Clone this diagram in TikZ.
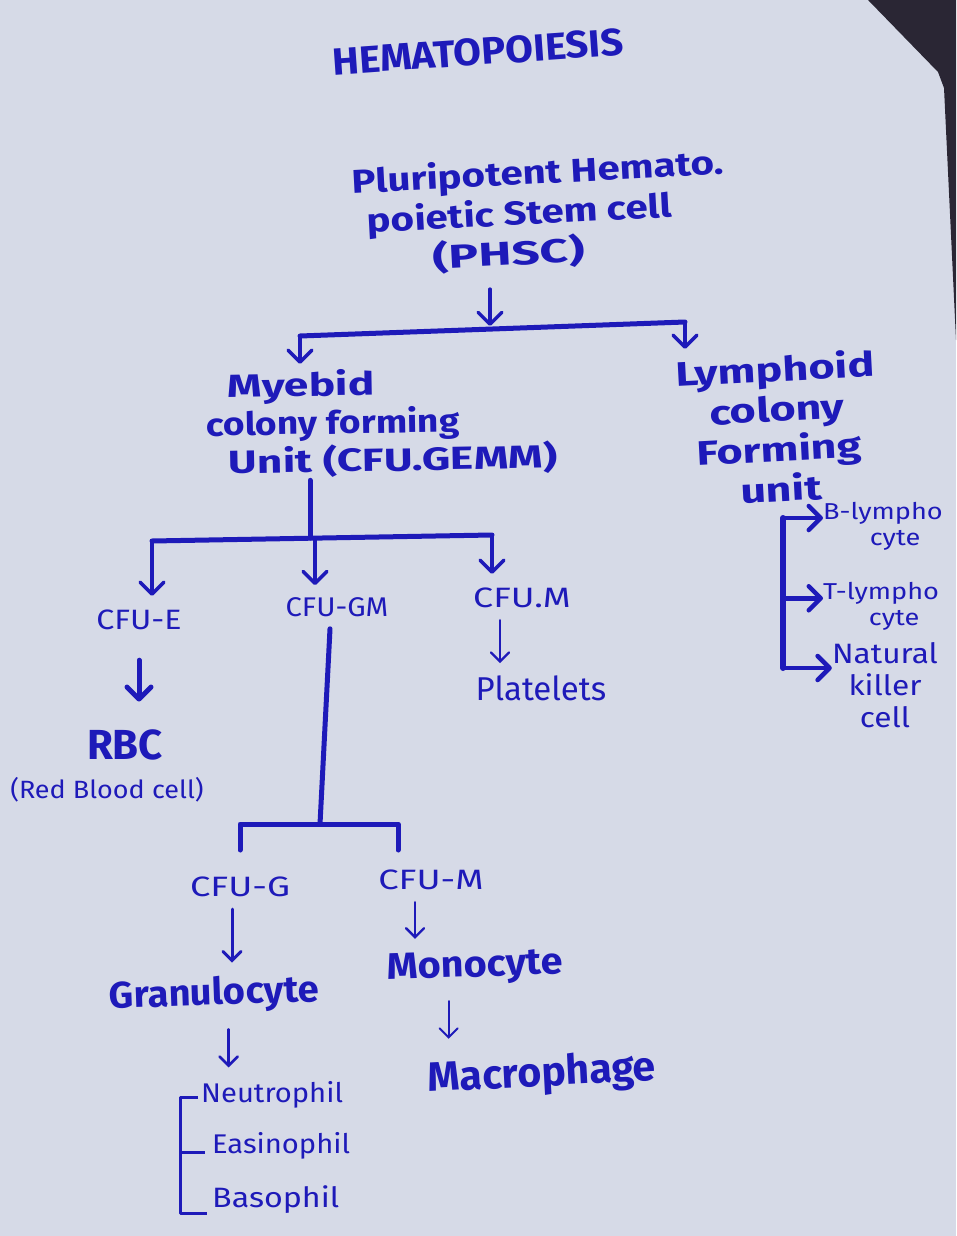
\documentclass[tikz,border=0pt]{standalone}
\usepackage{fontspec}
\setmainfont{Fira Sans}
\usetikzlibrary{arrows.meta}
\definecolor{paper}{RGB}{214,218,231}
\definecolor{ink}{RGB}{30,26,185}
\definecolor{darkedge}{RGB}{42,38,52}
\newcommand{\strx}[1]{\addfontfeature{FakeStretch=#1}}
\tikzset{
  txt/.style={text=ink, inner sep=0pt, align=center},
  link/.style={draw=ink, line width=5pt, line cap=round, line join=round},
  arr/.style={draw=ink, line width=3.5pt, line cap=round,
    -{Straight Barb[length=12pt,width=24pt,line cap=round,line join=round]}},
  thinarr/.style={draw=ink, line width=2.4pt, line cap=round,
    -{Straight Barb[length=9pt,width=18pt,line cap=round]}},
  fsx/.style 2 args={font=\fontsize{#1}{\fpeval{round(1.15*#1)}}\selectfont\strx{#2}},
  bfx/.style 2 args={font=\fontsize{#1}{\fpeval{round(1.15*#1)}}\selectfont\bfseries\strx{#2}},
}
\begin{document}
\begin{tikzpicture}[x=1pt,y=-1pt]
\fill[paper] (0,0) rectangle (956,1236);
\useasboundingbox (0,0) rectangle (956,1236);
\fill[darkedge] (868,0) -- (956,0) -- (956,340) -- (944,88) -- (938,72) -- cycle;

% title
\node[txt, bfx={38}{1.06}, rotate=4] (title) at (478,52) {HEMATOPOIESIS};

% stem cell
\node[txt, align=left, font=\fontsize{33}{40}\selectfont\bfseries\strx{1.22}, rotate=3] (phsc) at (540,213)
  {Pluripotent Hemato.\\\hspace*{13pt}poietic Stem cell\\\hspace*{77pt}{\strx{1.5}(PHSC)}};

\coordinate (bl) at (300,336);
\coordinate (br) at (685,322);
\coordinate (bm) at (490,329);
\draw[link] (bl) -- (br);
\draw[arr, shorten >=3pt] (bm |- phsc.south) ++(0,20) -- (bm);

% myeloid
\node[txt, align=left, anchor=north west, font=\fontsize{32}{38}\selectfont\bfseries, rotate=1] (myelo) at (205,372)
  {\hspace*{22pt}{\strx{1.38}Myebid}\\{\strx{1.16}colony forming}\\\hspace*{22pt}{\strx{1.38}Unit (CFU.GEMM)}};
\draw[arr, shorten >=5pt] (bl) -- (bl |- myelo.north);

% lymphoid
\node[txt, font=\fontsize{34}{40}\selectfont\bfseries\strx{1.32}, rotate=3] (lymph) at (778,428)
  {Lymphoid\\colony\\Forming\\unit};
\draw[arr, shorten >=5pt] (br) -- (br |- lymph.north);

% lymphoid branches
\node[txt, fsx={23}{1.18}, anchor=north west] (blym) at (823,502) {B-lympho\\\hspace*{24pt}cyte};
\node[txt, fsx={23}{1.18}, anchor=north west] (tlym) at (823,582) {T-lympho\\\hspace*{26pt}cyte};
\node[txt, fsx={28}{1.13}, anchor=north] (nk) at (885,642) {Natural\\killer\\cell};
\coordinate (lt) at (783,518);
\coordinate (lb) at (783,668);
\draw[link, line width=6pt] (lt) -- (lb);
\draw[arr, line width=4.5pt] (lt) -- (lt -| blym.west);
\draw[arr, line width=4.5pt] (lt |- tlym.west) ++(0,-8) -- ([yshift=8pt]tlym.west);
\draw[arr, line width=4.5pt] (lb) -- (lb -| nk.west);

% myeloid branches
\coordinate (m1) at (152,541);
\coordinate (m2) at (315,538);
\coordinate (m3) at (492,535);
\draw[link] (m1) -- (m3);
\draw[link] (m2 |- myelo.south) ++(-5,4) -- ([xshift=-5pt]m2);

\node[txt, fsx={28}{1.15}] (cfue) at (139,620) {CFU-E};
\node[txt, fsx={27}{1.08}] (cfugm) at (337,607) {CFU-GM};
\node[txt, fsx={28}{1.28}] (cfum) at (522,598) {CFU.M};
\draw[arr, shorten >=14pt] (m1) -- (m1 |- cfue.north);
\draw[arr, shorten >=12pt] (m2) -- (m2 |- cfugm.north);
\draw[arr, shorten >=14pt] (m3) -- (m3 |- cfum.north);

\node[txt, bfx={42}{1.0}] (rbc) at (125,745) {RBC};
\node[txt, fsx={25}{1.08}] (redbc) at (107,790) {(Red Blood cell)};
\draw[arr, line width=5pt, shorten <=30pt, shorten >=28pt] (cfue.south) -- (cfue.south |- rbc.north);

\node[txt, fsx={33}{1.0}] (plat) at (541,688) {Platelets};
\draw[thinarr, shorten <=12pt, shorten >=12pt] ([xshift=-22pt]cfum.south) -- ([xshift=-22pt]cfum.south |- plat.north);

% granulocyte-monocyte
\coordinate (gm) at (320,824);
\coordinate (gl) at (240,850);
\coordinate (gr) at (398,850);
\draw[link] ([xshift=-7pt]cfugm.south) ++(0,12) -- (gm);
\draw[link] (gl) -- (gl |- gm) -- (gr |- gm) -- (gr);

\node[txt, fsx={28}{1.3}] (cfug) at (240,887) {CFU-G};
\node[txt, fsx={28}{1.3}] (cfum2) at (431,880) {CFU-M};
\node[txt, bfx={37}{1.03}, rotate=2] (gran) at (214,995) {Granulocyte};
\node[txt, bfx={37}{1.07}, rotate=2] (mono) at (475,968) {Monocyte};
\node[txt, bfx={41}{1.0}, rotate=3] (macro) at (542,1075) {Macrophage};
\draw[thinarr, line width=3pt, shorten <=12pt, shorten >=14pt] ([xshift=-8pt]cfug.south) -- ([xshift=-8pt]cfug.south |- gran.north);
\draw[thinarr, shorten <=12pt, shorten >=12pt] ([xshift=-16pt]cfum2.south) -- ([xshift=-16pt]cfum2.south |- mono.north);
\draw[thinarr, line width=2pt, shorten <=16pt, shorten >=16pt] ([xshift=-27pt]mono.south) -- ([xshift=-27pt]mono.south |- macro.north);

% granulocyte types
\node[txt, fsx={27}{1.08}, anchor=west] (neut) at (201,1095) {Neutrophil};
\node[txt, fsx={27}{1.08}, anchor=west] (eosi) at (212,1146) {Easinophil};
\node[txt, fsx={28}{1.15}, anchor=west] (baso) at (212,1200) {Basophil};
\draw[thinarr, line width=2.6pt, shorten <=16pt, shorten >=14pt] ([xshift=14pt]gran.south) -- ([xshift=14pt]gran.south |- neut.north);
\coordinate (gt) at (180,1097);
\coordinate (gb) at (180,1213);
\draw[draw=ink, line width=3pt, line join=round] (neut.west |- gt) ++(-3,0) -- (gt) -- (gb) -- ([xshift=-5pt]baso.west |- gb);
\draw[draw=ink, line width=3pt] (gt |- eosi.west) ++(0,6) -- ([xshift=-7pt,yshift=-6pt]eosi.west);
\end{tikzpicture}
\end{document}
